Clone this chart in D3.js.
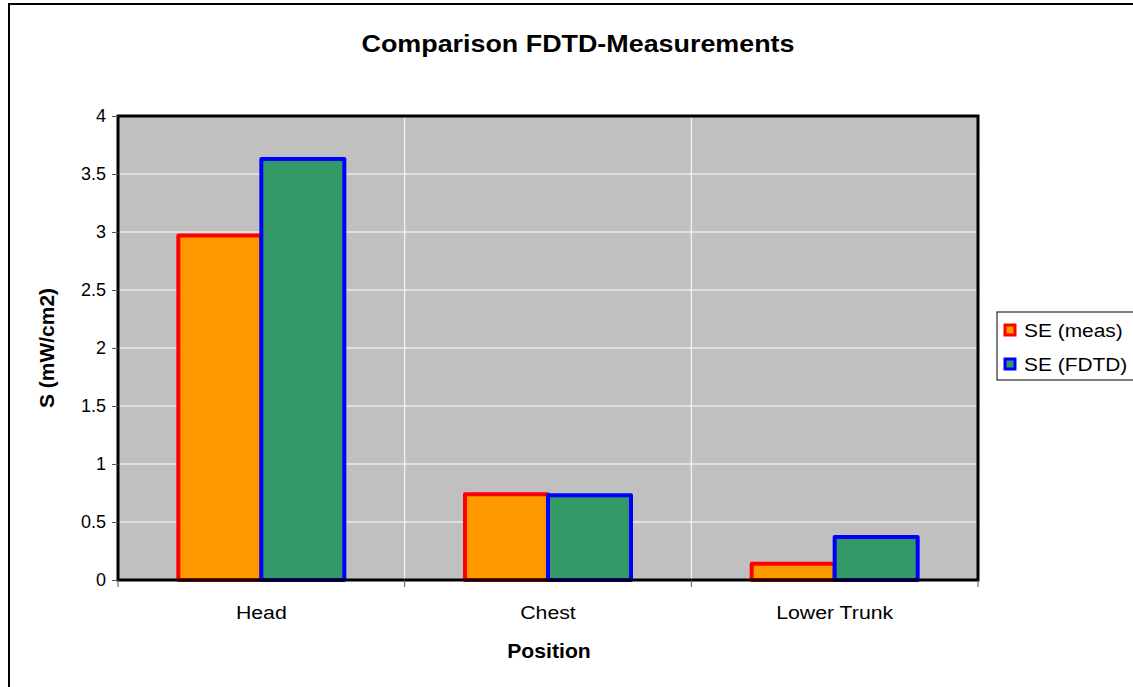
<!DOCTYPE html>
<html lang="en">
<head>
<meta charset="UTF-8">
<title>Comparison FDTD-Measurements</title>
<script src="https://d3js.org/d3.v7.min.js"></script>
<style>
  body { margin: 0; background: #fff; font-family: "Liberation Sans", Arial, sans-serif; }
  svg { display: block; }
</style>
</head>
<body>
<svg id="chart" width="1133" height="687"></svg>
<script>
// data
const categories = ["Head", "Chest", "Lower Trunk"];
const seriesNames = ["SE (meas)", "SE (FDTD)"];
const measValues = [2.97, 0.74, 0.14];
const fdtdValues = [3.63, 0.73, 0.37];
const yTicks = [0, 0.5, 1, 1.5, 2, 2.5, 3, 3.5, 4];

const fills = ["#FF9900", "#339966"];
const strokes = ["#FF0000", "#0000FF"];

const rows = categories.map((c, i) => ({ category: c, values: [measValues[i], fdtdValues[i]] }));

const svg = d3.select("#chart");
const plot = { left: 118, right: 978, top: 116, bottom: 580 };
// the source picture is a bit wider than tall, text looks stretched sideways
const stretch = 1.12;

// outer chart frame
svg.append("rect")
  .attr("x", 9).attr("y", 4)
  .attr("width", 1300).attr("height", 900)
  .attr("fill", "#fff")
  .attr("stroke", "#000").attr("stroke-width", 2);

const x = d3.scaleBand()
  .domain(categories)
  .range([plot.left, plot.right]);

const xs = d3.scaleBand()
  .domain(d3.range(seriesNames.length))
  .range([0, x.bandwidth()])
  .paddingOuter(0.727);

const y = d3.scaleLinear()
  .domain([0, 4])
  .range([plot.bottom, plot.top]);

// plot background
svg.append("rect")
  .attr("x", plot.left).attr("y", plot.top)
  .attr("width", plot.right - plot.left)
  .attr("height", plot.bottom - plot.top)
  .attr("fill", "#C0C0C0");

// horizontal gridlines
svg.append("g")
  .selectAll("line")
  .data(yTicks.slice(1, -1))
  .join("line")
  .attr("x1", plot.left).attr("x2", plot.right)
  .attr("y1", d => y(d)).attr("y2", d => y(d))
  .attr("stroke", "#fff").attr("stroke-width", 1);

// vertical gridlines at category boundaries
svg.append("g")
  .selectAll("line")
  .data(categories.slice(1))
  .join("line")
  .attr("x1", d => x(d)).attr("x2", d => x(d))
  .attr("y1", plot.top).attr("y2", plot.bottom)
  .attr("stroke", "#fff").attr("stroke-width", 1);

// bars
svg.append("g")
  .selectAll("g")
  .data(rows)
  .join("g")
  .attr("transform", d => `translate(${x(d.category)},0)`)
  .selectAll("rect")
  .data(d => d.values.map((v, i) => ({ v, i })))
  .join("rect")
  .attr("x", d => xs(d.i))
  .attr("y", d => y(d.v))
  .attr("width", xs.bandwidth())
  .attr("height", d => y(0) - y(d.v))
  .attr("fill", d => fills[d.i])
  .attr("stroke", d => strokes[d.i])
  .attr("stroke-width", 4)
  .attr("stroke-linejoin", "round");

// plot border
svg.append("rect")
  .attr("x", plot.left).attr("y", plot.top)
  .attr("width", plot.right - plot.left)
  .attr("height", plot.bottom - plot.top)
  .attr("fill", "none")
  .attr("stroke", "#000").attr("stroke-width", 3);

// y axis
const yAxis = svg.append("g")
  .attr("transform", `translate(${plot.left},0)`)
  .call(d3.axisLeft(y).tickValues(yTicks).tickFormat(d3.format("")).tickSize(6).tickPadding(6));
yAxis.select(".domain").remove();
yAxis.selectAll(".tick line").attr("stroke", "#555");
yAxis.selectAll(".tick text")
  .attr("font-family", "Liberation Sans, Arial, sans-serif")
  .attr("font-size", 18).attr("fill", "#000");

// x axis ticks at category boundaries
const xAxis = svg.append("g")
  .attr("transform", `translate(0,${plot.bottom})`);
xAxis.selectAll("line")
  .data(categories.map(c => x(c)).concat([plot.right]))
  .join("line")
  .attr("x1", d => d).attr("x2", d => d)
  .attr("y1", 0).attr("y2", 7)
  .attr("stroke", "#555");
xAxis.selectAll("text")
  .data(categories)
  .join("text")
  .attr("transform", d => `translate(${x(d) + x.bandwidth() / 2},39) scale(${stretch},1)`)
  .attr("text-anchor", "middle")
  .attr("font-size", 19)
  .text(d => d);

// titles
svg.append("text")
  .attr("transform", `translate(578,52) scale(${stretch},1)`)
  .attr("text-anchor", "middle")
  .attr("font-size", 24).attr("font-weight", "bold")
  .text("Comparison FDTD-Measurements");

svg.append("text")
  .attr("transform", `translate(549,658) scale(1.06,1)`)
  .attr("text-anchor", "middle")
  .attr("font-size", 20).attr("font-weight", "bold")
  .text("Position");

svg.append("text")
  .attr("transform", "translate(54,348) rotate(-90)")
  .attr("text-anchor", "middle")
  .attr("font-size", 21).attr("font-weight", "bold")
  .text("S (mW/cm2)");

// legend
const legend = svg.append("g").attr("transform", "translate(997,312)");
legend.append("rect")
  .attr("x", 0).attr("y", 0)
  .attr("width", 200).attr("height", 68)
  .attr("fill", "#fff")
  .attr("stroke", "#000").attr("stroke-width", 1);
const items = legend.selectAll("g.item")
  .data(seriesNames)
  .join("g")
  .attr("class", "item")
  .attr("transform", (d, i) => `translate(0,${18 + i * 34})`);
items.append("rect")
  .attr("x", 8).attr("y", -5)
  .attr("width", 10).attr("height", 10)
  .attr("fill", (d, i) => fills[i])
  .attr("stroke", (d, i) => strokes[i])
  .attr("stroke-width", 3);
items.append("text")
  .attr("transform", `translate(27,7) scale(1.1,1)`)
  .attr("font-size", 19)
  .text(d => d);
</script>
</body>
</html>
